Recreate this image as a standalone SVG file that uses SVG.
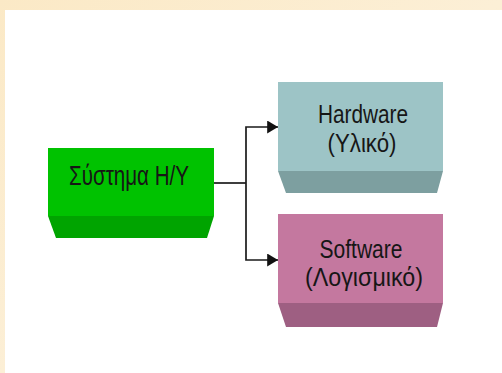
<svg xmlns="http://www.w3.org/2000/svg" width="502" height="373" viewBox="0 0 502 373">
  <style>
    .label { font-family: "Liberation Sans Narrow", "Liberation Sans", Arial, sans-serif; fill: #161616; text-anchor: middle; }
    .wire { fill: none; stroke: #1a1a1a; stroke-width: 1.7; }
  </style>
  <defs>
    <marker id="arrow" viewBox="0 0 10 12" refX="10" refY="6" markerWidth="11" markerHeight="13" markerUnits="userSpaceOnUse" orient="auto">
      <path d="M0,0 L10,6 L0,12 z" fill="#111"/>
    </marker>
    <linearGradient id="paper" x1="0" y1="0" x2="1" y2="1">
      <stop offset="0" stop-color="#fbe9c6"/>
      <stop offset="0.5" stop-color="#fcefd6"/>
      <stop offset="1" stop-color="#fae8c4"/>
    </linearGradient>
  </defs>

  <!-- page background and white sheet -->
  <rect x="0" y="0" width="502" height="373" fill="url(#paper)"/>
  <rect x="5" y="10" width="497" height="363" fill="#ffffff"/>

  <!-- connectors -->
  <g id="connectors">
    <path class="wire" d="M214,183 H246"/>
    <path class="wire" d="M246,183 V127 H278" marker-end="url(#arrow)"/>
    <path class="wire" d="M246,183 V260 H278" marker-end="url(#arrow)"/>
  </g>

  <!-- root node -->
  <g id="node-system">
    <path d="M48,216 H214 L207,238 H56 Z" fill="#00a400"/>
    <rect x="48" y="148" width="166" height="68" fill="#00c200"/>
    <text class="label" x="129" y="185" font-size="28.5" textLength="120" lengthAdjust="spacingAndGlyphs">Σύστημα Η/Υ</text>
  </g>

  <!-- hardware node -->
  <g id="node-hardware">
    <path d="M278,171 H443 L437,193 H286 Z" fill="#7d9fa0"/>
    <rect x="278" y="82" width="165" height="89" fill="#9dc4c6"/>
    <text class="label" x="363" y="123" font-size="26" textLength="90" lengthAdjust="spacingAndGlyphs">Hardware</text>
    <text class="label" x="362" y="152" font-size="26" textLength="69" lengthAdjust="spacingAndGlyphs">(Υλικό)</text>
  </g>

  <!-- software node -->
  <g id="node-software">
    <path d="M278,303 H443 L437,327 H286 Z" fill="#9e5f82"/>
    <rect x="278" y="214" width="165" height="89" fill="#c4789f"/>
    <text class="label" x="361" y="258" font-size="26" textLength="83" lengthAdjust="spacingAndGlyphs">Software</text>
    <text class="label" x="364" y="286" font-size="26" textLength="118" lengthAdjust="spacingAndGlyphs">(Λογισμικό)</text>
  </g>
</svg>
